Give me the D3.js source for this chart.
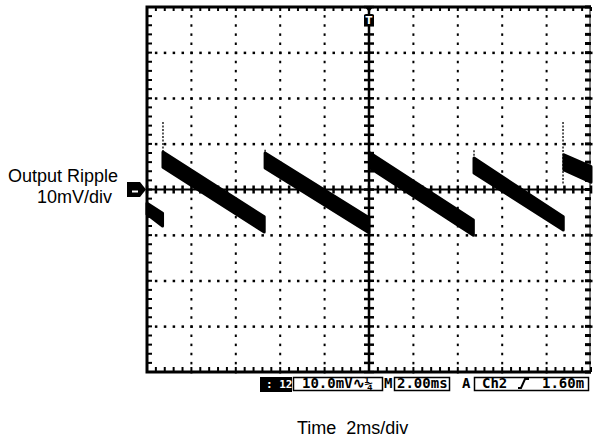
<!DOCTYPE html>
<html><head><meta charset="utf-8">
<script src="https://cdn.jsdelivr.net/npm/d3@7"></script>
<style>body{margin:0;background:#fff}svg{display:block}</style>
</head><body>
<script>
// ---- data (time in ms, voltage in mV relative to ground marker) ----
const timeDomain = [0, 20];          // 10 div x 2 ms/div
const voltDomain = [-40, 40];        // 8 div x 10 mV/div
const rampStart   = [0.00, 0.72, 5.32, 10.05, 14.73, 18.78];
const rampEnd     = [0.70, 5.28, 10.00, 14.70, 18.75, 20.00];
const startTop    = [-3.0, 8.2, 8.0, 8.0, 6.9, 7.6];
const startBottom = [-5.4, 4.9, 4.7, 4.7, 3.6, 4.3];
const endTop      = [-5.2, -6.0, -6.2, -6.7, -6.0, 5.0];
const endBottom   = [-8.0, -9.3, -9.5, -10.0, -8.9, 1.6];
const spikeTime   = [0.72, 5.32, 14.73, 18.74];
const spikeTop    = [14.8, 8.7, 8.6, 14.8];
const spikeBottom = [8.0, 7.4, 6.6, 1.0];
const statusTexts = ["10.0mV\u223F\u00BC", "M", "2.00ms", "A", "Ch2", "1.60m"];

const W = 594, H = 441;
const svg = d3.select("body").append("svg").attr("width", W).attr("height", H);
const x = d3.scaleLinear().domain(timeDomain).range([147, 591]);
const y = d3.scaleLinear().domain(voltDomain).range([372, 7]);

const g = svg.append("g");
const minorX = d3.range(0, 20.001, 0.4);
const minorY = d3.range(-40, 40.001, 2);
const majorX = d3.range(2, 20, 2);
const majorY = d3.range(-30, 40, 10);

// dotted grid (non-centre lines)
majorX.filter(t => t !== 10).forEach(t => {
  minorY.forEach(v => g.append("rect").attr("x", x(t) - 1).attr("y", y(v) - 1).attr("width", 2).attr("height", 2.5).attr("fill", "#000"));
});
majorY.filter(v => v !== 0).forEach(v => {
  minorX.forEach(t => g.append("rect").attr("x", x(t) - 1).attr("y", y(v) - 1).attr("width", 2.5).attr("height", 2.5).attr("fill", "#000"));
});

// centre axes with ticks
g.append("line").attr("x1", x(0)).attr("x2", x(20)).attr("y1", y(0)).attr("y2", y(0)).attr("stroke", "#000").attr("stroke-width", 2);
g.append("line").attr("x1", x(10)).attr("x2", x(10)).attr("y1", y(40)).attr("y2", y(-40)).attr("stroke", "#000").attr("stroke-width", 2.5);
minorX.forEach(t => g.append("rect").attr("x", x(t) - 1.2).attr("y", y(0) - 4).attr("width", 2.5).attr("height", 8).attr("fill", "#000"));
minorY.forEach(v => g.append("rect").attr("x", x(10) - 5).attr("y", y(v) - 1.2).attr("width", 10).attr("height", 2.5).attr("fill", "#000"));

// border with ticks
g.append("path").attr("d", `M${x(20)},${y(40)}H${x(0)}V${y(-40)}H${x(20)}`).attr("fill", "none").attr("stroke", "#000").attr("stroke-width", 3);
g.append("line").attr("x1", x(20) - 1).attr("x2", x(20) - 1).attr("y1", y(40)).attr("y2", y(-40)).attr("stroke", "#000").attr("stroke-width", 1);
minorX.forEach(t => {
  g.append("rect").attr("x", x(t) - 1).attr("y", y(40)).attr("width", 2).attr("height", 4).attr("fill", "#000");
  g.append("rect").attr("x", x(t) - 1).attr("y", y(-40) - 5).attr("width", 2).attr("height", 5).attr("fill", "#000");
});
minorY.forEach(v => {
  g.append("rect").attr("x", x(0)).attr("y", y(v) - 1).attr("width", 5).attr("height", 2).attr("fill", "#000");
  g.append("rect").attr("x", x(20) - 6).attr("y", y(v) - 1.5).attr("width", 6).attr("height", 3).attr("fill", "#000");
});

// trace: ramps as noisy bands
const bands = rampStart.map((s, i) => [
  [x(s), y(startTop[i])], [x(rampEnd[i]), y(endTop[i])],
  [x(rampEnd[i]), y(endBottom[i])], [x(s), y(startBottom[i])]
]);
g.selectAll("path.band").data(bands).enter().append("path").attr("class", "band")
  .attr("d", d => "M" + d.join("L") + "Z").attr("fill", "#000").attr("stroke", "#000").attr("stroke-width", 3).attr("stroke-linejoin", "round");
spikeTime.forEach((t, i) => g.append("line").attr("x1", x(t)).attr("x2", x(t))
  .attr("y1", y(spikeTop[i])).attr("y2", y(spikeBottom[i])).attr("stroke", "#000").attr("stroke-width", 1.3).attr("stroke-dasharray", "2,1.5"));

// trigger marker
g.append("path").attr("d", `M${x(10) - 4},${y(40)}L${x(10) + 4},${y(40)}L${x(10)},${y(40) + 5}Z`).attr("fill", "#000");
g.append("rect").attr("x", x(10) - 5).attr("y", 14).attr("width", 10).attr("height", 12).attr("rx", 2).attr("fill", "#000");
g.append("text").attr("x", x(10)).attr("y", 24).attr("text-anchor", "middle").attr("fill", "#fff")
  .attr("font-family", "DejaVu Sans").attr("font-weight", "bold").attr("font-size", 10).text("T");

// ground marker
g.append("path").attr("d", `M127,${y(0) - 7.5}H140L146,${y(0)}L140,${y(0) + 7.5}H127Z`).attr("fill", "#000");
g.append("rect").attr("x", 132).attr("y", y(0) + 1).attr("width", 6).attr("height", 2).attr("fill", "#fff");

// axis labels
const lab = svg.append("g").attr("font-family", "Liberation Sans, Arial, sans-serif").attr("font-size", 18).attr("fill", "#000");
lab.append("text").attr("x", 8).attr("y", 182).text("Output Ripple");
lab.append("text").attr("x", 37).attr("y", 203).text("10mV/div");
lab.append("text").attr("x", 297).attr("y", 434).attr("xml:space", "preserve").text("Time  2ms/div");

// status bar
const sb = svg.append("g").attr("font-family", "DejaVu Sans Mono, monospace").attr("font-weight", "bold").attr("font-size", 14).attr("fill", "#000");
sb.append("rect").attr("x", 260).attr("y", 377).attr("width", 32).attr("height", 15).attr("fill", "#000");
sb.append("text").attr("x", 266).attr("y", 388).attr("fill", "#fff").attr("font-size", 11).text(": 12");
sb.append("rect").attr("x", 293.5).attr("y", 377.5).attr("width", 89).attr("height", 13).attr("fill", "none").attr("stroke", "#000").attr("stroke-width", 1.5);
sb.append("rect").attr("x", 394.5).attr("y", 377.5).attr("width", 55).attr("height", 13).attr("fill", "none").attr("stroke", "#000").attr("stroke-width", 1.5);
sb.append("rect").attr("x", 474.5).attr("y", 377.5).attr("width", 114).attr("height", 13).attr("fill", "none").attr("stroke", "#000").attr("stroke-width", 1.5);
const sx = [302, 384, 397, 462, 482, 542];
statusTexts.forEach((s, i) => sb.append("text").attr("x", sx[i]).attr("y", 388).text(s));
// rising-edge trigger slope symbol
sb.append("path").attr("d", "M518,388H521L525,379H529").attr("fill", "none").attr("stroke", "#000").attr("stroke-width", 2);
</script>
</body></html>
